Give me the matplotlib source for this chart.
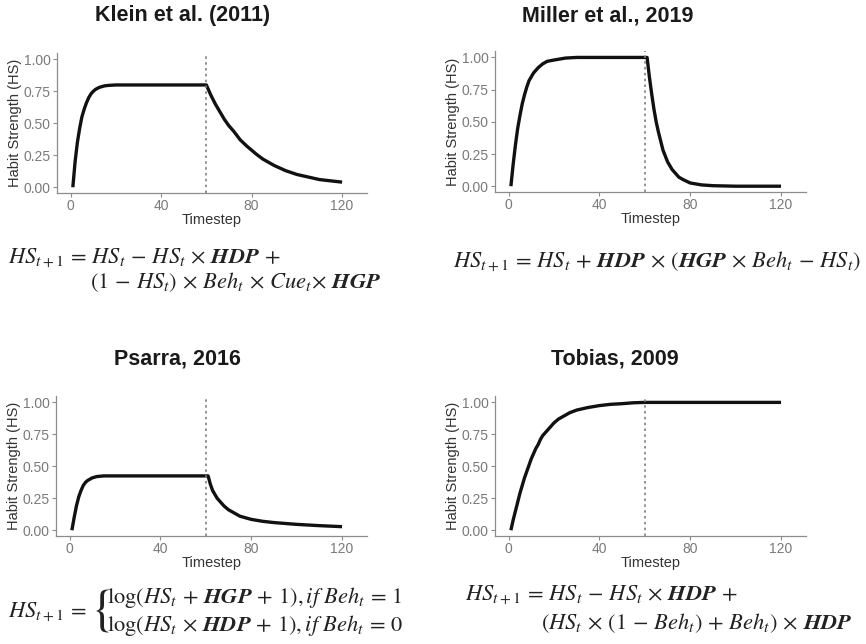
import matplotlib
matplotlib.use("Agg")
import matplotlib.pyplot as plt

plt.rcParams['font.family'] = ['Liberation Sans', 'DejaVu Sans']
plt.rcParams['mathtext.fontset'] = 'stix'

# Habit strength values (timestep -> HS)
kleinT = [1, 2, 3, 4, 5, 6, 7, 8, 9, 10, 11, 12, 13, 15, 17, 20, 30, 40, 50, 60,
          61, 62, 63, 64, 65, 66, 68, 70, 72, 75, 78, 80, 82, 85, 88, 90, 95, 100, 105, 110, 115, 120]
kleinHS = [0.0, 0.2, 0.35, 0.46, 0.55, 0.61, 0.66, 0.70, 0.73, 0.75, 0.765, 0.775, 0.783, 0.793, 0.797, 0.80,
           0.80, 0.80, 0.80, 0.80,
           0.76, 0.72, 0.685, 0.65, 0.62, 0.59, 0.53, 0.48, 0.44, 0.37, 0.32, 0.29, 0.26, 0.22, 0.19, 0.17,
           0.13, 0.10, 0.08, 0.06, 0.05, 0.04]

millerT = [1, 2, 3, 4, 5, 6, 7, 8, 9, 10, 11, 12, 13, 15, 17, 20, 25, 30, 40, 50, 60,
           61, 62, 63, 64, 65, 66, 67, 68, 69, 70, 71, 72, 73, 75, 77, 80, 85, 90, 100, 120]
millerHS = [0.0, 0.17, 0.32, 0.45, 0.55, 0.64, 0.71, 0.77, 0.82, 0.85, 0.88, 0.90, 0.92, 0.95, 0.97, 0.98,
            0.995, 1.0, 1.0, 1.0, 1.0,
            1.0, 0.85, 0.72, 0.60, 0.50, 0.42, 0.35, 0.28, 0.235, 0.19, 0.16, 0.13, 0.11, 0.07, 0.05,
            0.025, 0.01, 0.004, 0.0, 0.0]

psarraT = [1, 2, 3, 4, 5, 6, 7, 8, 9, 10, 12, 15, 20, 40, 60,
           61, 62, 63, 64, 65, 66, 67, 68, 70, 72, 75, 77, 80, 85, 90, 100, 110, 120]
psarraHS = [0.0, 0.10, 0.19, 0.26, 0.31, 0.35, 0.375, 0.39, 0.40, 0.41, 0.42, 0.425, 0.425, 0.425, 0.425,
            0.425, 0.36, 0.31, 0.28, 0.25, 0.23, 0.21, 0.19, 0.16, 0.14, 0.11, 0.10, 0.085, 0.07, 0.06,
            0.046, 0.036, 0.028]

tobiasT = [1, 2, 3, 4, 5, 6, 7, 8, 9, 10, 11, 12, 13, 14, 15, 17, 20, 22, 25, 27, 30, 35, 40, 45, 50,
           55, 60, 80, 100, 120]
tobiasHS = [0.0, 0.08, 0.15, 0.22, 0.29, 0.35, 0.41, 0.46, 0.51, 0.56, 0.60, 0.64, 0.67, 0.71, 0.74, 0.78,
            0.84, 0.87, 0.90, 0.92, 0.94, 0.96, 0.975, 0.985, 0.99, 0.997, 1.0, 1.0, 1.0, 1.0]

switchStep = 60
xTicks = [0, 40, 80, 120]
yTicks = [0.0, 0.25, 0.5, 0.75, 1.0]
yTickLabels = ["0.00", "0.25", "0.50", "0.75", "1.00"]

titles = ["Klein et al. (2011)", "Miller et al., 2019", "Psarra, 2016", "Tobias, 2009"]

W, H = 866, 644


def px(x, y):
    return x / W, 1 - y / H


def box(left, top, right, bottom):
    return [left / W, 1 - bottom / H, (right - left) / W, (bottom - top) / H]


fig = plt.figure(figsize=(8.66, 6.44), dpi=100)

panels = [
    (box(57, 53, 367, 193), kleinT, kleinHS),
    (box(495, 51, 806, 192), millerT, millerHS),
    (box(56, 396, 367, 536), psarraT, psarraHS),
    (box(495, 396, 806, 536), tobiasT, tobiasHS),
]

for rect, tt, hs in panels:
    ax = fig.add_axes(rect)
    ax.plot(tt, hs, color='#111111', lw=2.4, solid_capstyle='butt', solid_joinstyle='round')
    ax.axvline(switchStep, color='#808080', ls=(0, (1.5, 2)), lw=1.2)
    ax.set_xlim(-6, 131)
    ax.set_ylim(-0.045, 1.05)
    ax.set_xticks(xTicks)
    ax.set_yticks(yTicks)
    ax.set_yticklabels(yTickLabels)
    for s in ['top', 'right']:
        ax.spines[s].set_visible(False)
    for s in ['left', 'bottom']:
        ax.spines[s].set_color('#8c8c8c')
        ax.spines[s].set_linewidth(0.9)
    ax.tick_params(colors='#8c8c8c', labelcolor='#7a7a7a', labelsize=10, length=3, width=0.8, pad=1.5)
    ax.set_xlabel("Timestep", fontsize=10.5, color='#333333', labelpad=0)
    ax.set_ylabel("Habit Strength (HS)", fontsize=10.5, color='#333333', labelpad=1)

# panel titles
titlePos = [(183, 16), (608, 16), (177, 359), (615, 359)]
for t, (x, y) in zip(titles, titlePos):
    fig.text(*px(x, y), t, fontsize=15.5, fontweight='bold', color='#1a1a1a', ha='center', va='center')

eqSize = 16.2
eqColor = '#222222'

# Klein
fig.text(*px(8, 258), r"$HS_{t+1} \,=\, HS_t \,-\, HS_t \,\times\, \mathbfit{HDP} \,+$",
         fontsize=eqSize, color=eqColor, ha='left', va='center')
fig.text(*px(90, 282), r"$(1 \,-\, HS_t) \,\times\, Beh_t \,\times\, Cue_t\!\times\, \mathbfit{HGP}$",
         fontsize=eqSize, color=eqColor, ha='left', va='center')

# Miller
fig.text(*px(453, 262),
         r"$HS_{t+1} \,=\, HS_t \,+\, \mathbfit{HDP} \,\times\, (\mathbfit{HGP} \,\times\, Beh_t \,-\, HS_t)$",
         fontsize=eqSize, color=eqColor, ha='left', va='center')

# Psarra
fig.text(*px(8, 612), r"$HS_{t+1} \,=$", fontsize=eqSize, color=eqColor, ha='left', va='center')
fig.text(*px(100, 610), r"$\{$", fontsize=36, color=eqColor, ha='center', va='center')
fig.text(*px(107, 598), r"$\log(HS_t \,+\, \mathbfit{HGP} \,+\, 1), if\ Beh_t \,=\, 1$",
         fontsize=eqSize, color=eqColor, ha='left', va='center')
fig.text(*px(107, 625), r"$\log(HS_t \,\times\, \mathbfit{HDP} \,+\, 1), if\ Beh_t \,=\, 0$",
         fontsize=eqSize, color=eqColor, ha='left', va='center')

# Tobias
fig.text(*px(465, 595), r"$HS_{t+1} \,=\, HS_t \,-\, HS_t \,\times\, \mathbfit{HDP} \,+$",
         fontsize=eqSize, color=eqColor, ha='left', va='center')
fig.text(*px(541, 623), r"$(HS_t \,\times\, (1 \,-\, Beh_t) \,+\, Beh_t) \,\times\, \mathbfit{HDP}$",
         fontsize=eqSize, color=eqColor, ha='left', va='center')

fig.savefig("out.png", dpi=100, facecolor='white')
